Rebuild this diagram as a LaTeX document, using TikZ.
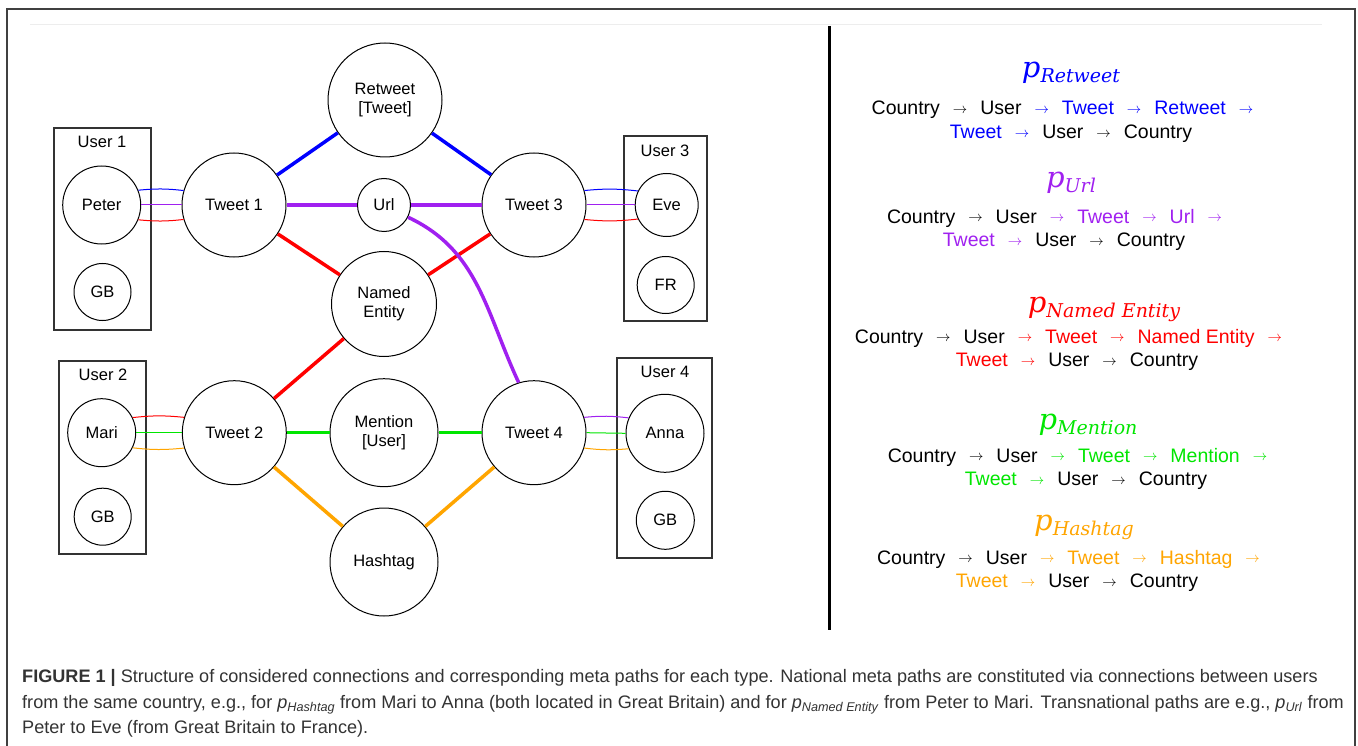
\documentclass[tikz,border=0pt]{standalone}
\usepackage{fontspec}
\setmainfont{Liberation Sans}
\newfontfamily\titlefont{DejaVu Serif}
\definecolor{cblue}{HTML}{0000FF}
\definecolor{cpurple}{HTML}{A020F0}
\definecolor{cred}{HTML}{FF0000}
\definecolor{cgreen}{HTML}{00E600}
\definecolor{corange}{HTML}{FFA500}
\definecolor{capgray}{HTML}{333333}
\newcommand\myarr{\hspace{13pt}\raisebox{1.5pt}{\fontsize{15}{15}\selectfont$\rightarrow$}\hspace{13pt}}
\newcommand\ptit[1]{{\titlefont\itshape\fontsize{29}{29}\selectfont p\raisebox{-5pt}{\fontsize{19}{19}\selectfont #1}}}
\begin{document}
\begin{tikzpicture}[x=1pt,y=-1pt,
  circ/.style={circle,draw,line width=1pt,inner sep=0pt,align=center,font=\fontsize{16.5}{19}\selectfont},
  ubox/.style={draw=black!80,line width=1.3pt,inner sep=0pt},
  ulabel/.style={font=\fontsize{16.5}{19}\selectfont,inner sep=0pt},
  thickcon/.style={line width=3.5pt},
  thincon/.style={line width=1pt},
  pathtxt/.style={font=\fontsize{19.5}{24}\selectfont,inner sep=0pt},
  ptitle/.style={inner sep=0pt},
  captxt/.style={font=\fontsize{18.1}{20}\selectfont,text=capgray,anchor=west,inner sep=0pt}]
\useasboundingbox (0,0) rectangle (1358,746);
\fill[white] (0,0) rectangle (1358,746);
% frame
\draw[line width=1.5pt,black!75] (7,746) -- (7,9) -- (1355,9) -- (1355,746);
\draw[line width=1pt,black!7] (30,25) -- (1322,25);
\draw[line width=3pt] (829,26) -- (829,630);
% user boxes
\node[ubox,minimum width=97,minimum height=202] (u1) at (102.5,229) {};
\node[ubox,minimum width=87,minimum height=193] (u2) at (102.5,457.5) {};
\node[ubox,minimum width=83,minimum height=185] (u3) at (665.5,228.5) {};
\node[ubox,minimum width=95,minimum height=200] (u4) at (664.5,458) {};
\node[ulabel] (l1) at (102,142) {User 1};
\node[ulabel] (l2) at (103,375) {User 2};
\node[ulabel] (l3) at (665,151) {User 3};
\node[ulabel] (l4) at (665,372) {User 4};
% circles
\node[circ,minimum size=78] (peter) at (101.7,205) {Peter};
\node[circ,minimum size=57] (gb1) at (102.5,292) {GB};
\node[circ,minimum size=68] (mari) at (101.7,432.7) {Mari};
\node[circ,minimum size=57] (gb2) at (102.7,516.7) {GB};
\node[circ,minimum size=63] (eve) at (666.7,205) {Eve};
\node[circ,minimum size=57] (fr) at (665.7,285) {FR};
\node[circ,minimum size=78] (anna) at (665,433.3) {Anna};
\node[circ,minimum size=58] (gb4) at (665.3,520.3) {GB};
\node[circ,minimum size=104] (t1) at (234,205) {Tweet 1};
\node[circ,minimum size=104] (t2) at (234.3,432.7) {Tweet 2};
\node[circ,minimum size=104] (t3) at (534,205) {Tweet 3};
\node[circ,minimum size=104] (t4) at (534,432.7) {Tweet 4};
\node[circ,minimum size=114] (rt) at (385,100) {Retweet\\{}[Tweet]};
\node[circ,minimum size=53] (url) at (384,205) {Url};
\node[circ,minimum size=105] (ne) at (384,304) {Named\\Entity};
\node[circ,minimum size=108] (men) at (384,432.7) {Mention\\{}[User]};
\node[circ,minimum size=108] (hash) at (384,562) {Hashtag};
% thin connectors
\draw[thincon,cblue] (peter.22) to[bend left=6] (t1.164);
\draw[thincon,cpurple] (peter.east) -- (t1.west);
\draw[thincon,cred] (peter.-22) to[bend right=6] (t1.-164);
\draw[thincon,cred] (mari.26) to[bend left=6] (t2.163);
\draw[thincon,cgreen] (mari.east) -- (t2.west);
\draw[thincon,corange] (mari.-26) to[bend right=6] (t2.-163);
\draw[thincon,cblue] (t3.16) to[bend left=6] (eve.154);
\draw[thincon,cpurple] (t3.east) -- (eve.west);
\draw[thincon,cred] (t3.-16) to[bend right=6] (eve.-154);
\draw[thincon,cpurple] (t4.17) to[bend left=6] (anna.157);
\draw[thincon,cgreen] (t4.east) -- (anna.west);
\draw[thincon,corange] (t4.-17) to[bend right=6] (anna.-157);
% thick connectors
\draw[thickcon,cblue] (t1) -- (rt);
\draw[thickcon,cblue] (rt) -- (t3);
\draw[thickcon,cpurple] (t1) -- (url);
\draw[thickcon,cpurple] (url) -- (t3);
\draw[thickcon,cred] (t1) -- (ne);
\draw[thickcon,cred] (ne) -- (t3);
\draw[thickcon,cred] (ne) -- (t2);
\draw[thickcon,cgreen] (t2) -- (men);
\draw[thickcon,cgreen] (men) -- (t4);
\draw[thickcon,corange] (t2) -- (hash);
\draw[thickcon,corange] (hash) -- (t4);
\draw[thickcon,cpurple] (url.-27) to[out=-25,in=115] (t4.107);
% right side
\node[ptitle,text=cblue] (h1) at (1071,73) {\ptit{Retweet}};
\node[pathtxt] (a1) at (1069,110) {Country\myarr User{\color{cblue}\myarr Tweet\myarr Retweet\myarr}};
\node[pathtxt] (b1) at (1071,134) {{\color{cblue}Tweet\myarr}User\myarr Country};
\node[ptitle,text=cpurple] (h2) at (1071,183) {\ptit{Url}};
\node[pathtxt] (a2) at (1061,218) {Country\myarr User{\color{cpurple}\myarr Tweet\myarr Url\myarr}};
\node[pathtxt] (b2) at (1064,242) {{\color{cpurple}Tweet\myarr}User\myarr Country};
\node[ptitle,text=cred] (h3) at (1104,309) {\ptit{Named Entity}};
\node[pathtxt] (a3) at (1075,338) {Country\myarr User{\color{cred}\myarr Tweet\myarr Named Entity\myarr}};
\node[pathtxt] (b3) at (1077,362) {{\color{cred}Tweet\myarr}User\myarr Country};
\node[ptitle,text=cgreen] (h4) at (1088,425) {\ptit{Mention}};
\node[pathtxt] (a4) at (1084,457) {Country\myarr User{\color{cgreen}\myarr Tweet\myarr Mention\myarr}};
\node[pathtxt] (b4) at (1086,481) {{\color{cgreen}Tweet\myarr}User\myarr Country};
\node[ptitle,text=corange] (h5) at (1084,527) {\ptit{Hashtag}};
\node[pathtxt] (a5) at (1075,559) {Country\myarr User{\color{corange}\myarr Tweet\myarr Hashtag\myarr}};
\node[pathtxt] (b5) at (1077,583) {{\color{corange}Tweet\myarr}User\myarr Country};
% caption
\node[captxt] (c1) at (22,678) {\textbf{FIGURE 1 |} Structure of considered connections and corresponding meta paths for each type. National meta paths are constituted via connections between users};
\node[captxt] (c2) at (22,705) {from the same country, e.g., for \textit{p}\textsubscript{\textit{Hashtag}} from Mari to Anna (both located in Great Britain) and for \textit{p}\textsubscript{\textit{Named Entity}} from Peter to Mari. Transnational paths are e.g., \textit{p}\textsubscript{\textit{Url}} from};
\node[captxt] (c3) at (22,729) {Peter to Eve (from Great Britain to France).};
\end{tikzpicture}
\end{document}
